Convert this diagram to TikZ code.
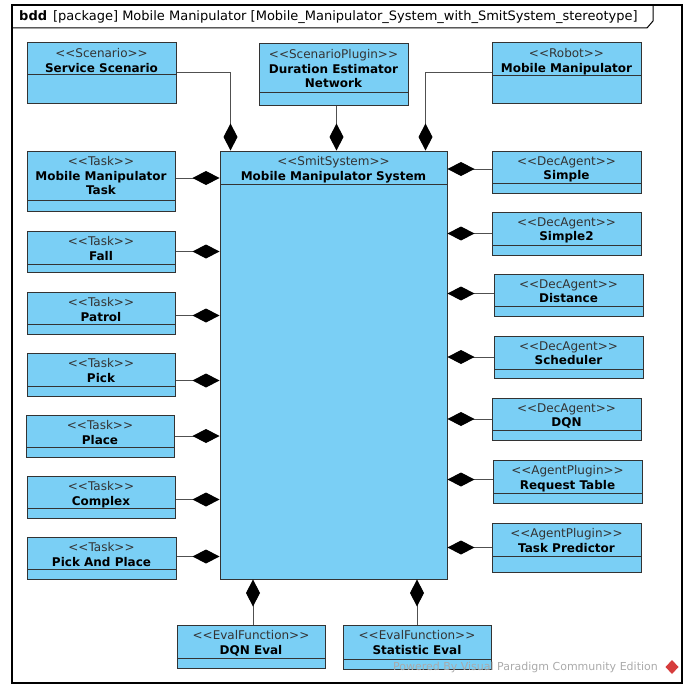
\documentclass[tikz,border=0pt]{standalone}
\usepackage{fontspec}
\setmainfont{DejaVu Sans}
\usepackage{tikz}
\usetikzlibrary{fit}
\usetikzlibrary{arrows.meta}

\definecolor{classblue}{RGB}{122,207,245}
\definecolor{boxgray}{RGB}{51,51,51}
\definecolor{linegray}{RGB}{80,80,80}
\definecolor{markgray}{RGB}{170,170,170}
\definecolor{vpred}{RGB}{214,60,60}

\tikzset{
    classbox/.style={draw=boxgray, fill=classblue, line width=1pt, inner sep=0pt},
    classline/.style={draw=boxgray, line width=1pt},
    classtext/.style={align=center, inner sep=0pt, font=\fontsize{12}{14.5}\selectfont\bfseries},
    comp/.style={draw=linegray, line width=1pt, -{Diamond[length=27pt,width=14pt,color=black]}},
}

\newcommand{\classblock}[8]{%
    \node[classbox, fit={(#2,#3) (#4,#5)}] (#1) {};
    \draw[classline] (#2,#6) -- (#4,#6);
    \node[classtext, anchor=north] (#1-text) at ([yshift=-6pt]#1.north) {{\mdseries\color{boxgray}<{}<#7>{}>}\\#8};
}

\begin{document}
\begin{tikzpicture}[x=1pt,y=-1pt]
        \useasboundingbox (0,0) rectangle (691,685);
        \draw[line width=1.2pt] (12,5) rectangle (682,683);
        \draw[line width=1pt] (12,28) -- (647,28) -- (653,21) -- (653,5);
        \node[anchor=west, inner sep=0pt, font=\fontsize{13}{15}\selectfont] (title) at (19,17) {\textbf{bdd}\hspace{6pt}[package] Mobile Manipulator [Mobile\_Manipulator\_System\_with\_SmitSystem\_stereotype]};

        \classblock{scen}{27}{43}{176}{103}{75}{Scenario}{Service Scenario}
        \classblock{den}{259}{44}{408}{105}{93}{ScenarioPlugin}{Duration Estimator\\Network}
        \classblock{robot}{492}{43}{641}{103}{76}{Robot}{Mobile Manipulator}
        \classblock{sys}{220}{151}{447}{579}{184}{SmitSystem}{Mobile Manipulator System}

        \classblock{mmt}{27}{151}{175}{211}{200}{Task}{Mobile Manipulator\\Task}
        \classblock{fall}{27}{231}{175}{272}{264}{Task}{Fall}
        \classblock{patrol}{27}{292}{175}{334}{324}{Task}{Patrol}
        \classblock{pick}{27}{353}{175}{396}{386}{Task}{Pick}
        \classblock{place}{26}{415}{174}{457}{447}{Task}{Place}
        \classblock{complex}{27}{476}{175}{518}{508}{Task}{Complex}
        \classblock{pap}{27}{537}{176}{579}{569}{Task}{Pick And Place}

        \classblock{simple}{492}{151}{641}{193}{183}{DecAgent}{Simple}
        \classblock{simpletwo}{492}{212}{641}{255}{245}{DecAgent}{Simple2}
        \classblock{distance}{494}{274}{643}{316}{306}{DecAgent}{Distance}
        \classblock{scheduler}{494}{336}{643}{378}{369}{DecAgent}{Scheduler}
        \classblock{dqn}{492}{398}{641}{440}{430}{DecAgent}{DQN}
        \classblock{reqtable}{493}{460}{642}{503}{493}{AgentPlugin}{Request Table}
        \classblock{taskpred}{492}{523}{641}{572}{556}{AgentPlugin}{Task Predictor}

        \classblock{dqneval}{177}{625}{325}{668}{658}{EvalFunction}{DQN Eval}
        \classblock{stateval}{343}{625}{491}{669}{659}{EvalFunction}{Statistic Eval}

        \draw[comp] (scen.east) -| ([xshift=11pt]sys.north west);
        \draw[comp] ([xshift=3pt]den.south) -- ([xshift=3pt]den.south |- sys.north);
        \draw[comp] (robot.west) -| ([xshift=-22pt]sys.north east);

        \draw[comp] ([yshift=3pt]mmt.east) -- ([yshift=3pt]mmt.east -| sys.west);
        \draw[comp] (fall.east) -- (fall.east -| sys.west);
        \draw[comp] ([yshift=-2.5pt]patrol.east) -- ([yshift=-2.5pt]patrol.east -| sys.west);
        \draw[comp] ([yshift=-6pt]pick.east) -- ([yshift=-6pt]pick.east -| sys.west);
        \draw[comp] (place.east) -- (place.east -| sys.west);
        \draw[comp] ([yshift=-2.5pt]complex.east) -- ([yshift=-2.5pt]complex.east -| sys.west);
        \draw[comp] ([yshift=1.5pt]pap.east) -- ([yshift=1.5pt]pap.east -| sys.west);

        \draw[comp] ([yshift=3pt]simple.west) -- ([yshift=3pt]simple.west -| sys.east);
        \draw[comp] (simpletwo.west) -- (simpletwo.west -| sys.east);
        \draw[comp] ([yshift=1.5pt]distance.west) -- ([yshift=1.5pt]distance.west -| sys.east);
        \draw[comp] (scheduler.west) -- (scheduler.west -| sys.east);
        \draw[comp] (dqn.west) -- (dqn.west -| sys.east);
        \draw[comp] ([yshift=2pt]reqtable.west) -- ([yshift=2pt]reqtable.west -| sys.east);
        \draw[comp] (taskpred.west) -- (taskpred.west -| sys.east);

        \draw[comp] ([xshift=2pt]dqneval.north) -- ([xshift=2pt]dqneval.north |- sys.south);
        \draw[comp] (stateval.north) -- (stateval.north |- sys.south);

        \node[anchor=east, inner sep=0pt, text=markgray, font=\fontsize{11}{13}\selectfont] (watermark) at (658,667) {Powered By Visual Paradigm Community Edition};
        \fill[vpred] (672,660) -- (678.5,667) -- (672,674) -- (665.5,667) -- cycle;
\end{tikzpicture}
\end{document}
